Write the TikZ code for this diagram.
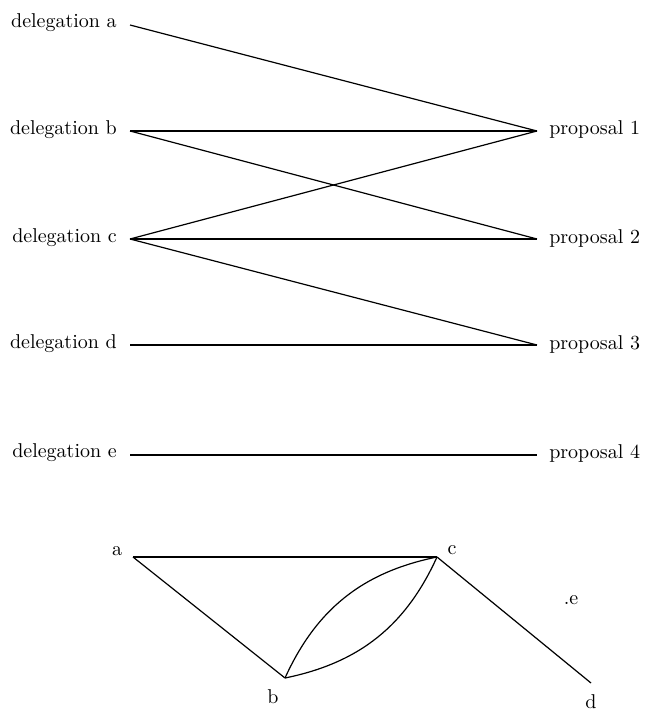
\documentclass[tikz,border=0pt]{standalone}
\usepackage{tikz}

\begin{document}
\begin{tikzpicture}[x=0.5pt,y=-0.5pt,line width=.6pt]
  \useasboundingbox (0,0) rectangle (654,711);
  % delegations
  \node[anchor=east] (la) at (124,23) {delegation a};
  \node[anchor=east] (lb) at (124,130) {delegation b};
  \node[anchor=east] (lc) at (124,238) {delegation c};
  \node[anchor=east] (ld) at (124,344) {delegation d};
  \node[anchor=east] (le) at (124,453) {delegation e};
  \coordinate (da) at (130,25);
  \coordinate (db) at (130,131);
  \coordinate (dc) at (130,239);
  \coordinate (dd) at (130,345);
  \coordinate (de) at (130,455);
  % proposals
  \node[anchor=west] (l1) at (542,130) {proposal 1};
  \node[anchor=west] (l2) at (542,238) {proposal 2};
  \node[anchor=west] (l3) at (542,344) {proposal 3};
  \node[anchor=west] (l4) at (542,453) {proposal 4};
  \coordinate (p1) at (537,131);
  \coordinate (p2) at (537,239);
  \coordinate (p3) at (537,345);
  \coordinate (p4) at (537,455);

  \draw (da) -- (p1);
  \draw (db) -- (p1);
  \draw (db) -- (p2);
  \draw (dc) -- (p1);
  \draw (dc) -- (p2);
  \draw (dc) -- (p3);
  \draw (dd) -- (p3);
  \draw (de) -- (p4);

  % graph
  \coordinate (a) at (133,557);
  \coordinate (b) at (285,678);
  \coordinate (c) at (437,557);
  \coordinate (d) at (591,683);
  \node[inner sep=1pt] (na) at (117,551) {a};
  \node[inner sep=1pt] (nb) at (273,697) {b};
  \node[inner sep=1pt] (nc) at (452,550) {c};
  \node[inner sep=1pt] (nd) at (591,702) {d};
  \node[inner sep=1pt] (ne) at (571,600) {.e};

  \draw (a) -- (c);
  \draw (a) -- (b);
  \draw (c) -- (d);
  \draw (b) to[bend left=27] (c);
  \draw (b) to[bend right=27] (c);
\end{tikzpicture}
\end{document}
